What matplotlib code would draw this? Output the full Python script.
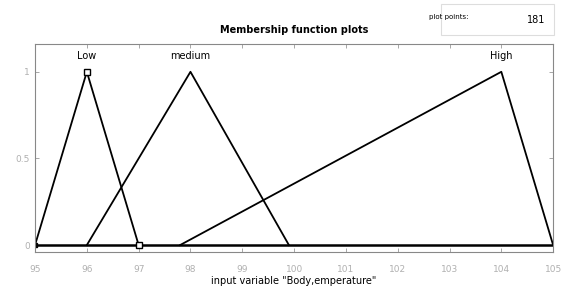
import matplotlib.pyplot as plt
from matplotlib.patches import Rectangle

# membership functions (triangles) of "Body temperature"
low_x = [95, 96, 97]
low_y = [0, 1, 0]
medium_x = [96, 98, 99.9]
medium_y = [0, 1, 0]
high_x = [97.8, 104, 105]
high_y = [0, 1, 0]
mf_names = ["Low", "medium", "High"]
mf_peaks = [96, 98, 104]
x_ticks = [95, 96, 97, 98, 99, 100, 101, 102, 103, 104, 105]
y_ticks = [0, 0.5, 1]
plot_points = 181

fig = plt.figure(figsize=(5.65, 2.88), dpi=100)
ax = fig.add_axes([0.062, 0.125, 0.917, 0.722])

ax.plot([95, 105], [0, 0], color="black", lw=1.8)
ax.plot(low_x, low_y, color="black", lw=1.3)
ax.plot(medium_x, medium_y, color="black", lw=1.3)
ax.plot(high_x, high_y, color="black", lw=1.3)

# selected MF markers
ax.plot([low_x[1], low_x[2]], [low_y[1], low_y[2]], ls="none", marker="s",
        ms=4, mfc="white", mec="black", mew=1.0)
ax.plot([95], [0], ls="none", marker="s", ms=3, color="black")

for name, px in zip(mf_names, mf_peaks):
    ax.text(px, 1.06, name, ha="center", va="bottom", fontsize=7)

ax.set_xlim(95, 105)
ax.set_ylim(-0.04, 1.16)
ax.set_xticks(x_ticks)
ax.set_yticks(y_ticks)
ax.set_yticklabels(["0", "0.5", "1"])
ax.tick_params(direction="in", top=True, right=True, length=3, width=0.6,
               colors="#999999", labelsize=6.5, labelcolor="#b0b0b0")
ax.tick_params(axis="x", pad=9)
for s in ax.spines.values():
    s.set_color("#888888")
    s.set_linewidth(0.8)

ax.set_title("Membership function plots", fontsize=7, fontweight="bold", pad=8)
fig.text(0.52, 0.025, 'input variable "Body,emperature"', fontsize=7,
         ha="center", va="center")

fig.text(0.76, 0.94, "plot points:", fontsize=5, ha="left", va="center")
fig.patches.append(Rectangle((0.78, 0.88), 0.2, 0.105, transform=fig.transFigure,
                             facecolor="white", edgecolor="#dddddd", lw=0.8))
fig.text(0.965, 0.93, str(plot_points), fontsize=7, ha="right", va="center")

fig.savefig("out.png", dpi=100)
